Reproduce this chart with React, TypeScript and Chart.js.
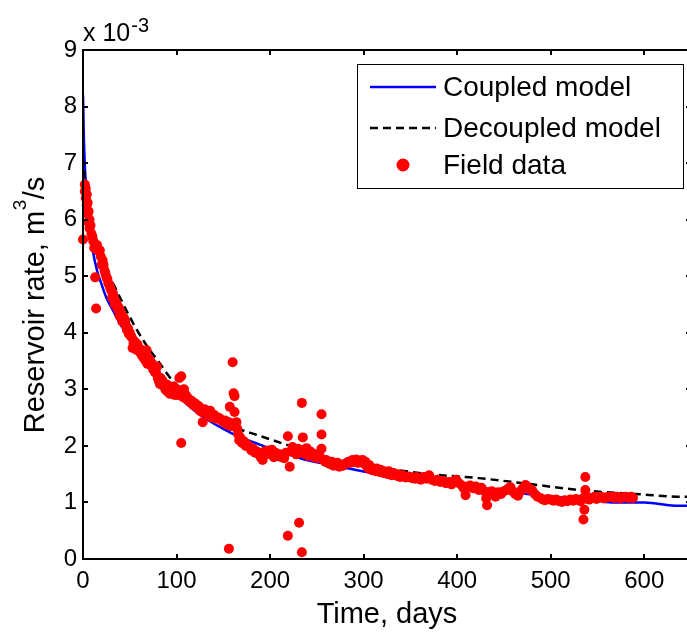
import React, { useEffect, useRef } from 'react';
import { Chart, registerables } from 'chart.js';

Chart.register(...registerables);

// Axis ticks (rate axis in units of 1e-3 m^3/s)
const xTicks = [0, 100, 200, 300, 400, 500, 600];
const yTicks = [0, 1, 2, 3, 4, 5, 6, 7, 8, 9];
const xMin = 0;
const xMax = 650;
const yMin = 0;
const yMax = 9;

const seriesNames = ['Coupled model', 'Decoupled model', 'Field data'];

// Coupled model (x 1e-3 m^3/s)
const coupledDays = [0, 1, 2, 4, 6, 10, 15, 20, 25, 32, 40, 50, 61, 70, 85, 100, 125, 150, 167, 185, 200, 220, 239, 270, 309, 350, 400, 450, 500, 540, 565, 600, 637, 650];
const coupledRates = [8.2, 7.4, 6.95, 6.4, 6.0, 5.5, 5.1, 4.85, 4.62, 4.4, 4.15, 3.9, 3.65, 3.42, 3.1, 2.9, 2.55, 2.3, 2.16, 2.05, 1.95, 1.85, 1.75, 1.65, 1.52, 1.42, 1.3, 1.2, 1.1, 1.06, 1.0, 1.0, 0.94, 0.94];

// Decoupled model (x 1e-3 m^3/s)
const decoupledDays = [0, 3, 5, 10, 20, 32, 50, 65, 82, 96, 110, 130, 150, 167, 185, 203, 225, 250, 280, 317, 370, 423, 480, 530, 590, 645, 650];
const decoupledRates = [7.1, 6.5, 6.25, 5.8, 5.3, 4.88, 4.28, 3.85, 3.46, 3.15, 2.95, 2.7, 2.48, 2.3, 2.2, 2.1, 1.98, 1.85, 1.72, 1.62, 1.5, 1.43, 1.32, 1.22, 1.15, 1.1, 1.1];

// Field data [day, rate x 1e-3 m^3/s]
const fieldData: [number, number][] = [
  [0, 5.65], [2, 6.62], [2, 6.5], [3, 6.55], [3, 6.38], [4, 6.45], [4, 6.25], [5, 6.3], [5, 6.1], [6, 6.15],
  [6, 5.95], [7, 6.0], [7, 5.85], [8, 5.9], [9, 5.75], [10, 5.7], [11, 5.62], [12, 5.5], [13, 4.98], [14, 4.43],
  [15, 5.55], [16, 5.45], [18, 5.46], [19, 5.35], [21, 5.28], [22, 5.2], [23, 5.1], [25, 4.98], [26, 4.95], [27, 4.88],
  [29, 4.8], [30, 4.75], [32, 4.7], [33, 4.62], [35, 4.55], [36, 4.5], [38, 4.45], [40, 4.38], [41, 4.32], [43, 4.28],
  [45, 4.2], [46, 4.12], [48, 4.08], [50, 4.0], [52, 3.92], [53, 3.73], [55, 3.85], [56, 3.78], [58, 3.8], [60, 3.72],
  [62, 3.7], [64, 3.62], [66, 3.6], [68, 3.69], [70, 3.55], [72, 3.5], [74, 3.45], [76, 3.4], [78, 3.3], [79, 3.4],
  [80, 3.2], [82, 3.1], [83, 3.2], [85, 3.15], [87, 3.05], [89, 2.98], [90, 3.08], [92, 3.0], [93, 2.92], [95, 2.96],
  [97, 3.05], [98, 2.9], [100, 3.0], [102, 2.94], [103, 3.2], [105, 3.23], [105, 2.05], [107, 2.86], [108, 3.0], [110, 2.9],
  [20, 5.2], [24, 5.05], [28, 4.85], [31, 4.62], [34, 4.5], [37, 4.42], [39, 4.3], [42, 4.2], [44, 4.25], [47, 4.05],
  [49, 3.98], [51, 3.95], [54, 3.82], [57, 3.7], [59, 3.75], [61, 3.65], [63, 3.6], [65, 3.55], [67, 3.5], [69, 3.45],
  [71, 3.52], [73, 3.42], [75, 3.35], [77, 3.3], [81, 3.15], [84, 3.08], [86, 3.1], [88, 3.0], [91, 2.95], [94, 3.02],
  [96, 2.92], [99, 2.95], [101, 2.9], [104, 2.98], [106, 2.92], [109, 2.85], [111, 2.82],
  [112, 2.85], [114, 2.78], [116, 2.8], [118, 2.72], [120, 2.75], [122, 2.68], [124, 2.7], [125, 2.62], [127, 2.6], [128, 2.42],
  [130, 2.65], [132, 2.6], [134, 2.55], [136, 2.62], [138, 2.5], [140, 2.55], [142, 2.48], [144, 2.5], [146, 2.49], [148, 2.45],
  [150, 2.42], [152, 2.45], [154, 2.38], [156, 2.42], [156, 0.18], [157, 2.69], [158, 2.35], [160, 3.48], [161, 2.93], [162, 2.88],
  [162, 2.6], [164, 2.42], [165, 2.3], [166, 2.2], [167, 2.1], [168, 2.15], [170, 2.05], [172, 2.08], [174, 2.0], [176, 2.02],
  [178, 1.98], [180, 1.92], [182, 1.95], [184, 1.88], [186, 1.9], [188, 1.85], [189, 1.87], [190, 1.8], [192, 1.75], [194, 1.9],
  [196, 1.85], [198, 1.92], [200, 1.88], [202, 1.93], [204, 1.8], [206, 1.88], [208, 1.82], [210, 1.85], [212, 1.8], [213, 1.84],
  [215, 1.78], [217, 1.88], [219, 2.17], [219, 0.41], [221, 1.63], [222, 1.9], [224, 1.98], [226, 1.92], [228, 1.85], [230, 1.95],
  [231, 0.64], [233, 1.88], [234, 2.76], [234, 0.12], [235, 2.15], [236, 1.9], [238, 1.85], [239, 1.96], [241, 1.82], [243, 1.9],
  [245, 1.87], [247, 1.8], [249, 1.85], [251, 1.78], [253, 1.82], [255, 2.56], [255, 2.2], [255, 1.95], [257, 1.75], [259, 1.72],
  [260, 1.75], [262, 1.7], [264, 1.68], [266, 1.72], [268, 1.65], [270, 1.68], [272, 1.7], [274, 1.63], [276, 1.66], [278, 1.65],
  [280, 1.68], [282, 1.7], [284, 1.72], [286, 1.7], [288, 1.75], [290, 1.72], [292, 1.76], [294, 1.7], [296, 1.74], [298, 1.72],
  [299, 1.75], [301, 1.68], [303, 1.65], [305, 1.6], [307, 1.62], [309, 1.57], [311, 1.58], [313, 1.55], [315, 1.56], [317, 1.54],
  [302, 1.72], [306, 1.66], [310, 1.6], [314, 1.6], [318, 1.58], [322, 1.55], [327, 1.55], [332, 1.52], [337, 1.5], [343, 1.46],
  [350, 1.45], [356, 1.45], [362, 1.43],
  [319, 1.56], [321, 1.52], [324, 1.52], [326, 1.5], [328, 1.52], [330, 1.48], [333, 1.5], [336, 1.47], [339, 1.45], [342, 1.48],
  [345, 1.44], [348, 1.46], [352, 1.43], [355, 1.42], [358, 1.44], [361, 1.4], [364, 1.45], [367, 1.42], [370, 1.48], [373, 1.4],
  [376, 1.38], [379, 1.4], [382, 1.36], [385, 1.38], [388, 1.34], [391, 1.36], [394, 1.32], [397, 1.38], [399, 1.4], [402, 1.34],
  [405, 1.3], [407, 1.25], [409, 1.13], [411, 1.28], [414, 1.3], [417, 1.25], [420, 1.28], [423, 1.22], [426, 1.26], [429, 1.2],
  [431, 1.07], [432, 0.95], [434, 1.18], [437, 1.2], [440, 1.15], [441, 1.1], [444, 1.18], [447, 1.15], [450, 1.2], [453, 1.22],
  [455, 1.25], [457, 1.27], [459, 1.2], [462, 1.15], [465, 1.12], [468, 1.2], [470, 1.25], [473, 1.31], [475, 1.28], [478, 1.22],
  [480, 1.22], [483, 1.15], [486, 1.1], [489, 1.08], [492, 1.05], [494, 1.04], [497, 1.06], [500, 1.05], [503, 1.03], [506, 1.05],
  [509, 1.02], [512, 1.01], [515, 1.04], [518, 1.02], [521, 1.05], [524, 1.03], [527, 1.06], [530, 1.04], [532, 1.02], [535, 1.08],
  [535, 0.7], [536, 0.87], [537, 1.45], [537, 1.22], [539, 1.1], [541, 1.05], [544, 1.08], [547, 1.1], [549, 1.06], [551, 1.08],
  [554, 1.1], [557, 1.07], [560, 1.09], [563, 1.1], [565, 1.1], [568, 1.08], [571, 1.1], [574, 1.07], [577, 1.09], [580, 1.1],
  [583, 1.08], [586, 1.1], [588, 1.08],
];

const FONT = '"Liberation Sans", Arial, Helvetica, sans-serif';
const BLUE = '#0000ff';
const BLACK = '#000000';
const RED = '#ff0000';

const decorPlugin = {
  id: 'decor',
  afterDraw(chart: any) {
    const { ctx, chartArea: a, scales } = chart;
    const xs = scales.x;
    const ys = scales.y;
    ctx.save();
    // frame
    ctx.strokeStyle = BLACK;
    ctx.lineWidth = 2;
    ctx.beginPath();
    ctx.moveTo(a.left, a.top);
    ctx.lineTo(a.left, a.bottom);
    ctx.lineTo(a.right, a.bottom);
    ctx.lineTo(a.right, a.top);
    ctx.closePath();
    ctx.stroke();
    // inward ticks
    const tl = 5;
    ctx.beginPath();
    xTicks.forEach((v) => {
      const px = Math.round(xs.getPixelForValue(v));
      ctx.moveTo(px, a.bottom);
      ctx.lineTo(px, a.bottom - tl);
      ctx.moveTo(px, a.top);
      ctx.lineTo(px, a.top + tl);
    });
    yTicks.forEach((v) => {
      const py = Math.round(ys.getPixelForValue(v));
      ctx.moveTo(a.left, py);
      ctx.lineTo(a.left + tl, py);
      ctx.moveTo(a.right, py);
      ctx.lineTo(a.right - tl, py);
    });
    ctx.stroke();

    ctx.fillStyle = BLACK;
    // exponent label
    ctx.textBaseline = 'alphabetic';
    ctx.textAlign = 'left';
    ctx.font = `25px ${FONT}`;
    const base = 'x 10';
    ctx.fillText(base, a.left, 41);
    const bw = ctx.measureText(base).width;
    ctx.font = `20px ${FONT}`;
    ctx.fillText('-3', a.left + bw + 1, 32);

    // x title
    ctx.font = `29px ${FONT}`;
    ctx.textAlign = 'center';
    ctx.fillText('Time, days', (a.left + a.right) / 2, 623);

    // y title with superscript
    ctx.save();
    ctx.translate(44, (a.top + a.bottom) / 2 + 1);
    ctx.rotate(-Math.PI / 2);
    ctx.textAlign = 'left';
    ctx.font = `29px ${FONT}`;
    const p1 = 'Reservoir rate, m';
    const p3 = '/s';
    const w1 = ctx.measureText(p1).width;
    const w3 = ctx.measureText(p3).width;
    ctx.font = `19px ${FONT}`;
    const w2 = ctx.measureText('3').width;
    const start = -(w1 + w2 + w3) / 2;
    ctx.font = `29px ${FONT}`;
    ctx.fillText(p1, start, 0);
    ctx.fillText(p3, start + w1 + w2 + 1, 0);
    ctx.font = `19px ${FONT}`;
    ctx.fillText('3', start + w1 + 0.5, -18);
    ctx.restore();

    // legend
    const lx = 357.5, ly = 64.5, lw = 326, lh = 124;
    ctx.fillStyle = '#ffffff';
    ctx.fillRect(lx, ly, lw, lh);
    ctx.strokeStyle = BLACK;
    ctx.lineWidth = 1;
    ctx.strokeRect(lx, ly, lw, lh);
    const rows = [87, 128, 165];
    ctx.lineWidth = 2.5;
    ctx.strokeStyle = BLUE;
    ctx.beginPath();
    ctx.moveTo(370, rows[0]);
    ctx.lineTo(436, rows[0]);
    ctx.stroke();
    ctx.strokeStyle = BLACK;
    ctx.setLineDash([8, 5]);
    ctx.beginPath();
    ctx.moveTo(370, rows[1]);
    ctx.lineTo(436, rows[1]);
    ctx.stroke();
    ctx.setLineDash([]);
    ctx.fillStyle = RED;
    ctx.beginPath();
    ctx.arc(403, rows[2], 6.5, 0, Math.PI * 2);
    ctx.fill();
    ctx.fillStyle = BLACK;
    ctx.font = `28px ${FONT}`;
    ctx.textAlign = 'left';
    ctx.textBaseline = 'middle';
    seriesNames.forEach((n, i) => ctx.fillText(n, 443, rows[i] + 1));
    ctx.restore();
  },
};

export default function App() {
  const ref = useRef<HTMLCanvasElement>(null);
  useEffect(() => {
    if (!ref.current) return;
    const chart = new Chart(ref.current, {
      type: 'scatter',
      data: {
        datasets: [
          {
            label: seriesNames[2],
            data: fieldData.map(([d, r]) => ({ x: d, y: r })),
            backgroundColor: RED,
            borderColor: RED,
            borderWidth: 0,
            pointRadius: 5,
            showLine: false,
            order: 0,
            clip: false as any,
          },
          {
            label: seriesNames[1],
            data: decoupledDays.map((d, i) => ({ x: d, y: decoupledRates[i] })),
            borderColor: BLACK,
            backgroundColor: BLACK,
            borderWidth: 2.5,
            borderDash: [8, 5],
            pointRadius: 0,
            showLine: true,
            cubicInterpolationMode: 'monotone',
            order: 1,
          },
          {
            label: seriesNames[0],
            data: coupledDays.map((d, i) => ({ x: d, y: coupledRates[i] })),
            borderColor: BLUE,
            backgroundColor: BLUE,
            borderWidth: 2.5,
            pointRadius: 0,
            showLine: true,
            cubicInterpolationMode: 'monotone',
            order: 2,
          },
        ],
      },
      options: {
        animation: false,
        responsive: false,
        devicePixelRatio: 1,
        layout: { padding: { top: 50, left: 0, right: 0, bottom: 0 } },
        plugins: { legend: { display: false }, tooltip: { enabled: false } },
        scales: {
          x: {
            type: 'linear',
            min: xMin,
            max: xMax,
            grid: { display: false, drawTicks: false },
            border: { display: false },
            afterBuildTicks: (s: any) => {
              s.ticks = xTicks.map((v) => ({ value: v }));
            },
            afterFit: (s: any) => {
              s.height = 79;
            },
            ticks: {
              color: BLACK,
              font: { family: FONT, size: 24 },
              padding: 8,
              maxRotation: 0,
              autoSkip: false,
            },
          },
          y: {
            type: 'linear',
            min: yMin,
            max: yMax,
            grid: { display: false, drawTicks: false },
            border: { display: false },
            afterBuildTicks: (s: any) => {
              s.ticks = yTicks.map((v) => ({ value: v }));
            },
            afterFit: (s: any) => {
              s.width = 83;
            },
            ticks: {
              color: BLACK,
              font: { family: FONT, size: 24 },
              padding: 6,
              autoSkip: false,
            },
          },
        },
      },
      plugins: [decorPlugin],
    } as any);
    return () => chart.destroy();
  }, []);
  return (
    <div
      style={{
        position: 'fixed',
        left: 0,
        top: 0,
        width: 687,
        height: 638,
        overflow: 'hidden',
        background: '#ffffff',
      }}
    >
      <canvas ref={ref} width={696} height={638} style={{ width: 696, height: 638, display: 'block' }} />
    </div>
  );
}
